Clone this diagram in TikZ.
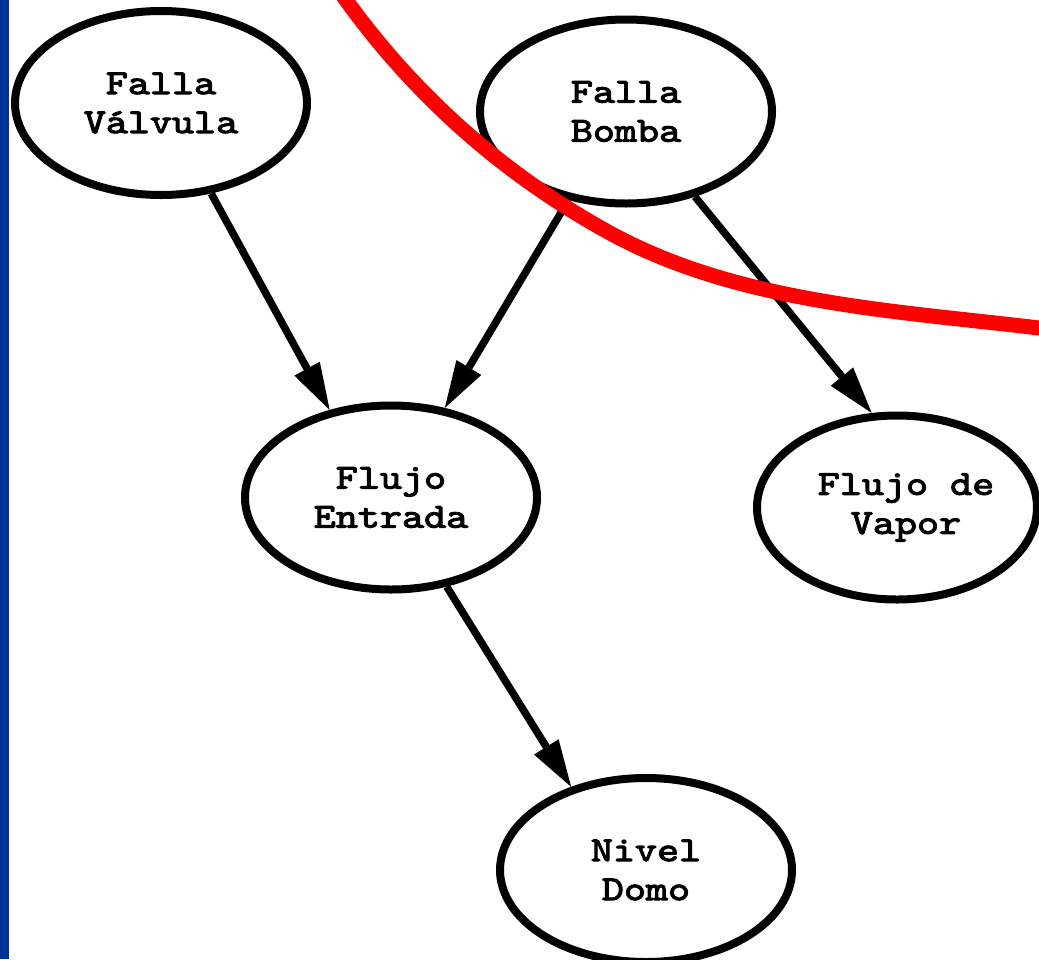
\documentclass[tikz,border=0pt]{standalone}
\usepackage{fontspec}
\newfontfamily\nodefont{lmmono10-regular.otf}[FakeBold=3, FakeStretch=1.2]
\usetikzlibrary{shapes.geometric,arrows.meta}
\definecolor{barblue}{RGB}{0,51,153}
\definecolor{curvered}{RGB}{255,0,0}
\tikzset{
  bnode/.style={ellipse, draw=black, line width=8pt, fill=white,
    minimum width=292pt, minimum height=184pt, inner sep=0pt,
    align=center, font=\nodefont\fontsize{35}{39}\selectfont},
  bedge/.style={line width=7.5pt, draw=black,
    -{Triangle[length=47pt,width=29pt,line width=0pt]}},
  redcurve/.style={line width=15pt, draw=curvered}
}
\begin{document}
\begin{tikzpicture}[x=1pt,y=-1pt]
\useasboundingbox (0,0) rectangle (1039,959);
\begin{scope}
\clip (0,0) rectangle (1039,959);
\fill[white] (0,0) rectangle (1039,959);
\node[bnode] (va) at (161,103) {Falla\\Válvula};
\node[bnode] (bo) at (626,111.5) {Falla\\Bomba};
\node[bnode] (en) at (391,497.5) {Flujo\\Entrada};
\node[bnode, minimum width=280pt] (vp) at (897,507.5) {\hspace*{18pt}Flujo de\\\hspace*{18pt}Vapor};
\node[bnode] (dm) at (646,870) {Nivel\\Domo};
\draw[bedge] (va.-61.2) -- (en.125.7);
\draw[bedge] (bo.237.7) -- (en.59.8);
\draw[bedge] (bo.-51.4) -- (vp.105.9);
\draw[bedge] (en.-58.3) -- (dm.132.5);
\draw[redcurve] (332,-19.5) -- (346,0) .. controls (416,97) and (505,175.5) .. (610,233)
  .. controls (738,303) and (894,310.6) .. (1039,328) -- (1060,330.5);
\fill[barblue] (0,0) rectangle (9,959);
\end{scope}
\end{tikzpicture}
\end{document}
